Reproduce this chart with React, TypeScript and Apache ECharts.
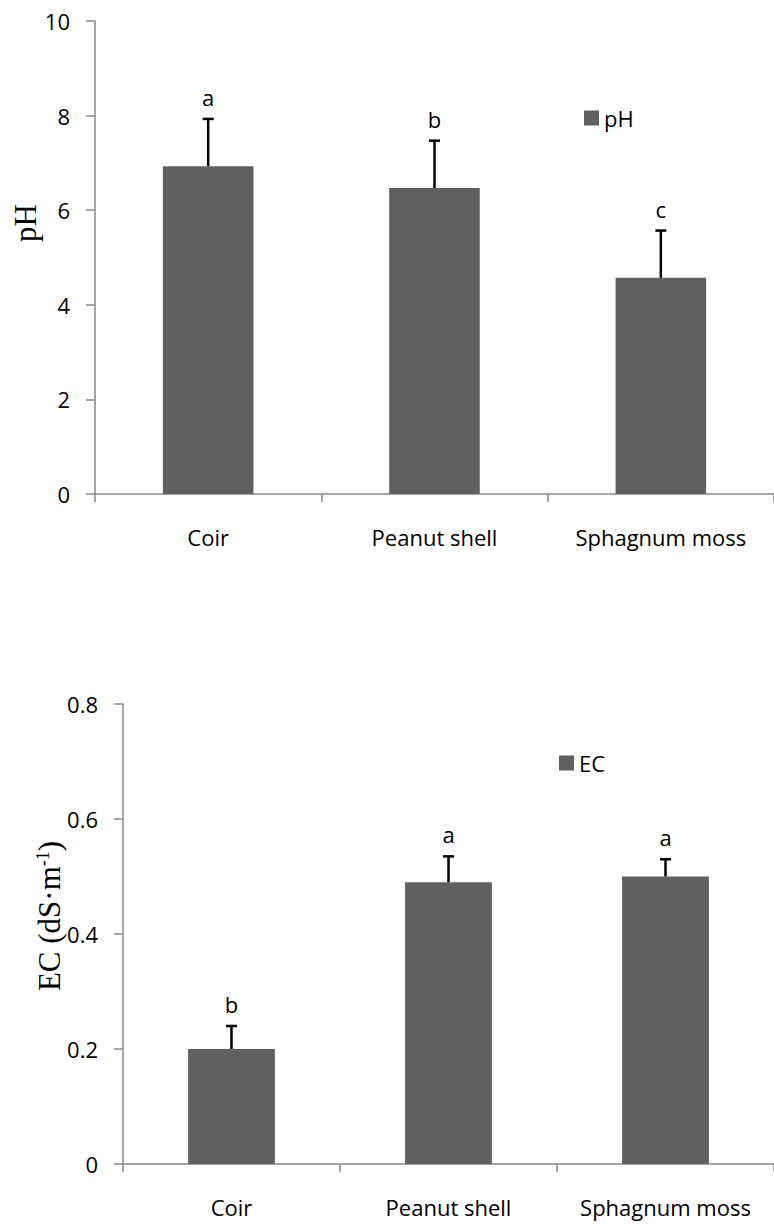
import React, { useEffect, useRef } from 'react';
import * as echarts from 'echarts';

const categories = ['Coir', 'Peanut shell', 'Sphagnum moss'];

const phValues = [6.93, 6.47, 4.57];
const phErrors = [1.0, 1.0, 1.0];
const phLetters = ['a', 'b', 'c'];
const phMin = 0;
const phMax = 10;
const phInterval = 2;

const ecValues = [0.2, 0.49, 0.5];
const ecErrors = [0.04, 0.045, 0.03];
const ecLetters = ['b', 'a', 'a'];
const ecMin = 0;
const ecMax = 0.8;
const ecInterval = 0.2;

const SANS = '"Open Sans", "Noto Sans", sans-serif';
const SERIF = '"Liberation Serif", "DejaVu Serif", serif';
const AXIS_COLOR = '#898989';
const BAR_COLOR = '#606060';

function errorSeries(idx: number, values: number[], errors: number[], letters: string[]) {
  return {
    type: 'custom',
    xAxisIndex: idx,
    yAxisIndex: idx,
    z: 10,
    silent: true,
    data: values.map((v, i) => [i, v, errors[i]]),
    renderItem: (params: any, api: any) => {
      const i = api.value(0);
      const v = api.value(1);
      const e = api.value(2);
      const base = api.coord([i, v]);
      const top = api.coord([i, v + e]);
      const letter = letters[params.dataIndex];
      return {
        type: 'group',
        children: [
          {
            type: 'line',
            shape: { x1: base[0], y1: base[1], x2: top[0], y2: top[1] },
            style: { stroke: '#000', lineWidth: 2.5 },
          },
          {
            type: 'line',
            shape: { x1: top[0] - 5.5, y1: top[1], x2: top[0] + 5.5, y2: top[1] },
            style: { stroke: '#000', lineWidth: 2.5 },
          },
          {
            type: 'text',
            x: top[0],
            y: top[1] - 22,
            style: {
              text: letter,
              fill: '#000',
              font: `22px ${SANS}`,
              align: 'center',
              verticalAlign: 'middle',
            },
          },
        ],
      };
    },
  };
}

function xAxisCfg(idx: number) {
  return {
    type: 'category',
    gridIndex: idx,
    data: categories,
    axisLine: { show: true, lineStyle: { color: AXIS_COLOR, width: 1.5 } },
    axisTick: { show: true, length: 8, lineStyle: { color: AXIS_COLOR, width: 1.5 } },
    axisLabel: { margin: 32, fontSize: 22, fontFamily: SANS, color: '#000', interval: 0 },
  };
}

function yAxisCfg(idx: number, min: number, max: number, interval: number) {
  return {
    type: 'value',
    gridIndex: idx,
    min,
    max,
    interval,
    splitLine: { show: false },
    axisLine: { show: true, lineStyle: { color: AXIS_COLOR, width: 1.5 } },
    axisTick: { show: true, length: 9, lineStyle: { color: AXIS_COLOR, width: 1.5 } },
    axisLabel: { margin: 25, fontSize: 22, fontFamily: SANS, color: '#000' },
  };
}

const legendCfg = (name: string, left: number, top: number) => ({
  data: [name],
  left,
  top,
  padding: 0,
  itemWidth: 15,
  itemHeight: 15,
  icon: 'rect',
  selectedMode: false,
  textStyle: { fontSize: 22, fontFamily: SANS, color: '#000' },
});

export default function App() {
  const ref = useRef<HTMLDivElement>(null);

  useEffect(() => {
    document.body.style.margin = '0';
    if (!ref.current) return;
    const chart = echarts.init(ref.current, null, { renderer: 'svg' });
    chart.setOption({
      animation: false,
      backgroundColor: '#fff',
      grid: [
        { left: 95, top: 21, width: 684, height: 473 },
        { left: 123, top: 704, width: 664.5, height: 460 },
      ],
      xAxis: [xAxisCfg(0), xAxisCfg(1)],
      yAxis: [
        yAxisCfg(0, phMin, phMax, phInterval),
        yAxisCfg(1, ecMin, ecMax, ecInterval),
      ],
      legend: [legendCfg('pH', 584, 107), legendCfg('EC', 559, 752)],
      graphic: [
        {
          type: 'text',
          x: 25,
          y: 223,
          rotation: Math.PI / 2,
          style: {
            text: 'pH',
            font: `31px ${SERIF}`,
            fill: '#000',
            align: 'center',
            verticalAlign: 'middle',
          },
        },
        {
          type: 'text',
          x: 49,
          y: 916,
          rotation: Math.PI / 2,
          style: {
            text: '{m|EC (dS·m}{s|-1}{m|)}',
            fill: '#000',
            align: 'center',
            verticalAlign: 'middle',
            rich: {
              m: { fontSize: 31, fontFamily: SERIF, fill: '#000' },
              s: { fontSize: 18, fontFamily: SERIF, fill: '#000', verticalAlign: 'top' },
            },
          },
        },
      ],
      series: [
        {
          name: 'pH',
          type: 'bar',
          xAxisIndex: 0,
          yAxisIndex: 0,
          barWidth: '40%',
          itemStyle: { color: BAR_COLOR },
          data: phValues,
        },
        errorSeries(0, phValues, phErrors, phLetters),
        {
          name: 'EC',
          type: 'bar',
          xAxisIndex: 1,
          yAxisIndex: 1,
          barWidth: '40%',
          itemStyle: { color: BAR_COLOR },
          data: ecValues,
        },
        errorSeries(1, ecValues, ecErrors, ecLetters),
      ],
    });
    return () => chart.dispose();
  }, []);

  return <div ref={ref} style={{ width: 774, height: 1224 }} />;
}
